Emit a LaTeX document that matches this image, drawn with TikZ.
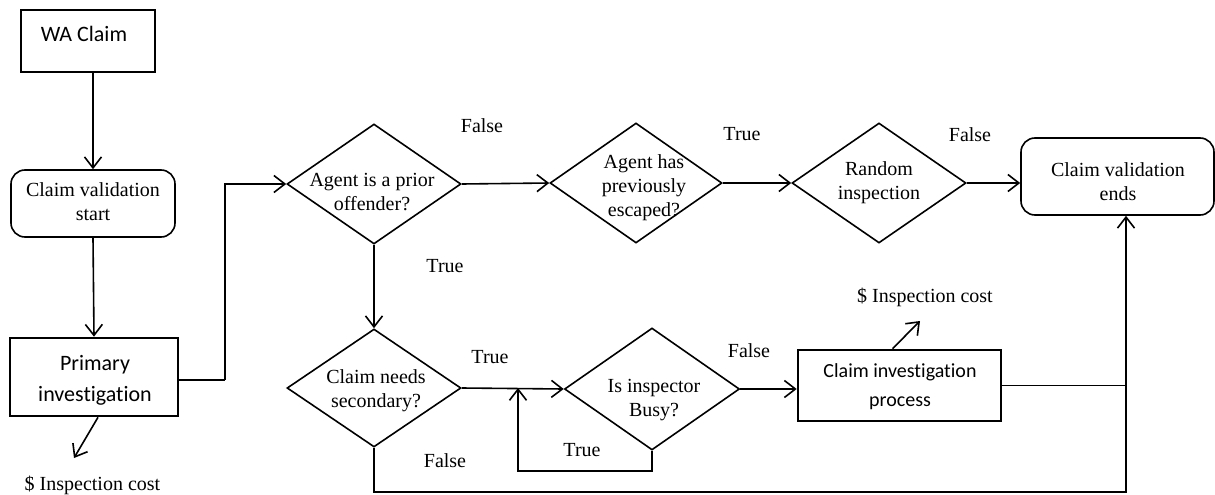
\documentclass[tikz,border=0pt]{standalone}
\usepackage{fontspec}
\setmainfont{Liberation Serif}
\newfontfamily\calib[Ligatures={NoCommon}]{Carlito}
\usetikzlibrary{shapes.geometric,arrows.meta}
\begin{document}
\begin{tikzpicture}[x=1pt,y=-1pt,
  thinline/.style={line width=1.6pt},
  arr/.style={thinline,-{Straight Barb[length=11pt,width=17pt]}},
  serif/.style={font=\fontsize{20}{24}\selectfont,align=center,inner sep=0pt},
  sansbig/.style={font=\calib\fontsize{22}{31}\selectfont,align=center,inner sep=0pt},
  sanssm/.style={font=\calib\fontsize{20}{29}\selectfont,align=center,inner sep=0pt},
  thickbox/.style={draw,line width=2.6pt,rectangle,inner sep=0pt},
  roundbox/.style={draw,thinline,rectangle,rounded corners=14pt,inner sep=0pt},
  decision/.style={draw,thinline,diamond,inner sep=0pt},
  lbl/.style={font=\fontsize{20}{24}\selectfont,inner sep=0pt}]
\useasboundingbox (0,0) rectangle (1215,495);

% boxes
\node[thickbox,minimum width=134pt,minimum height=62pt] (wa) at (88,41) {};
\node[sansbig] (watext) at (84,34) {WA Claim};
\node[roundbox,minimum width=164pt,minimum height=67pt] (cvs) at (93,203.5) {};
\node[serif] (cvstext) at (93,201.5) {Claim validation\\start};
\node[thickbox,minimum width=168pt,minimum height=78pt] (prim) at (94,377) {};
\node[sansbig] (primtext) at (95,380) {Primary\\investigation};

\node[decision,minimum width=174pt,minimum height=120pt] (d1) at (374,184) {};
\node[serif] (d1t) at (372,192) {Agent is a prior\\offender?};
\node[decision,minimum width=172pt,minimum height=120pt] (d2) at (636,183) {};
\node[serif] (d2t) at (644,187.5) {Agent has\\previously\\escaped?};
\node[decision,minimum width=174pt,minimum height=120pt] (d3) at (879,183) {};
\node[serif] (d3t) at (879,183) {Random\\inspection};
\node[roundbox,minimum width=193pt,minimum height=77pt] (ends) at (1117.5,176.5) {};
\node[serif] (endst) at (1118,181.5) {Claim validation\\ends};

\node[decision,minimum width=174pt,minimum height=118pt] (d4) at (374,388) {};
\node[serif] (d4t) at (376,390.5) {Claim needs\\secondary?};
\node[decision,minimum width=175pt,minimum height=122pt] (d5) at (652,389) {};
\node[serif] (d5t) at (654,400) {Is inspector\\Busy?};
\node[thickbox,minimum width=203pt,minimum height=71pt] (cip) at (899.5,385.5) {};
\node[sanssm] (cipt) at (900,387) {Claim investigation\\process};

% cost labels
\node[lbl] (cost1) at (92.5,485) {\$ Inspection cost};
\node[lbl] (cost2) at (925,297) {\$ Inspection cost};
\coordinate (c1) at (74,458);
\coordinate (c2) at (920,321);

% junctions
\coordinate (j1) at (225,380);
\coordinate (lp) at (518,471);
\coordinate (j3) at (1126,492);

% connectors
\draw[arr] (wa.south -| cvs.north) -- (cvs.north);
\draw[arr] (cvs.south) -- (prim.north);
\draw[thinline] (prim.east |- j1) -- (j1);
\draw[arr] (j1) |- (d1.west);
\draw[arr] (d1.east) -- (d2.west);
\draw[arr] (d2.east) -- (d3.west);
\draw[arr] (d3.east) -- (d3.east -| ends.west);
\draw[arr] (d1.south) -- (d4.north);
\draw[arr] (d4.east) -- (d5.west);
\draw[arr] (d5.south) |- (lp) -- (lp |- d4.east);
\draw[arr] (d5.east) -- (d5.east -| cip.west);
\draw[thinline] (cip.east) -- (cip.east -| j3);
\draw[arr] (d4.south) |- (j3) -- (j3 |- ends.south);
\draw[arr] ([xshift=4pt]prim.south) -- (c1);
\draw[arr] ([xshift=-7pt]cip.north) -- (c2);

% branch labels
\node[lbl] (l1) at (482,126) {False};
\node[lbl] (l2) at (742,134) {True};
\node[lbl] (l3) at (970,135) {False};
\node[lbl] (l4) at (445,266) {True};
\node[lbl] (l5) at (490,357) {True};
\node[lbl] (l6) at (749,351) {False};
\node[lbl] (l7) at (582,450) {True};
\node[lbl] (l8) at (445,461) {False};
\end{tikzpicture}
\end{document}
